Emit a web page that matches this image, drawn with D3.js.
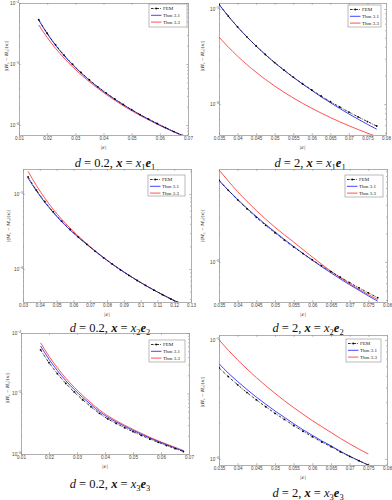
<!DOCTYPE html>
<html><head><meta charset="utf-8">
<script src="https://cdn.jsdelivr.net/npm/d3@7"></script>
<style>body{margin:0;background:#fff}svg{display:block}</style>
</head><body><svg id="c" width="392" height="500"></svg>
<script>
// ---------- DATA ----------
const seriesNames = ["FEM", "Thm 3.1", "Thm 3.3"];
const titleD = ["0.2", "2", "0.2", "2", "0.2", "2"];
const titleIdx = ["1", "1", "2", "2", "3", "3"];
const yLabelLetter = ["H", "H", "M", "M", "H", "H"];

const xTicksA = [0.01, 0.02, 0.03, 0.04, 0.05, 0.06, 0.07];
const xTicksB = [0.035, 0.04, 0.045, 0.05, 0.055, 0.06, 0.065, 0.07, 0.075, 0.08];
const xTicksC = [0.03, 0.04, 0.05, 0.06, 0.07, 0.08, 0.09, 0.1, 0.11, 0.12, 0.13];

// panel 1: d=0.2, x=x1e1
const p1X = [0.017,0.020,0.023,0.026,0.029,0.032,0.035,0.038,0.041,0.044,0.047,0.050,0.053,0.056,0.059,0.062,0.065,0.068];
const p1FEM = [5.33e-5,3.20e-5,2.06e-5,1.40e-5,9.91e-6,7.27e-6,5.48e-6,4.23e-6,3.33e-6,2.67e-6,2.17e-6,1.78e-6,1.48e-6,1.25e-6,1.06e-6,9.05e-7,7.80e-7,6.77e-7];
const p1Thm31 = [5.25e-5,3.14e-5,2.02e-5,1.37e-5,9.72e-6,7.14e-6,5.39e-6,4.17e-6,3.29e-6,2.64e-6,2.15e-6,1.77e-6,1.47e-6,1.24e-6,1.05e-6,8.98e-7,7.74e-7,6.72e-7];
const p1Thm33 = [4.37e-5,2.72e-5,1.80e-5,1.25e-5,9.02e-6,6.69e-6,5.10e-6,3.98e-6,3.15e-6,2.54e-6,2.07e-6,1.71e-6,1.43e-6,1.21e-6,1.03e-6,8.87e-7,7.68e-7,6.70e-7];

// panel 2: d=2, x=x1e1
const p2X = [0.035,0.0375,0.040,0.0425,0.045,0.0475,0.050,0.0525,0.055,0.0575,0.060,0.0625,0.065,0.0675,0.070,0.0725,0.075,0.0775];
const p2FEM = [1.12e-5,8.43e-6,6.49e-6,5.10e-6,4.08e-6,3.32e-6,2.73e-6,2.28e-6,1.92e-6,1.634e-6,1.404e-6,1.216e-6,1.060e-6,9.32e-7,8.23e-7,7.32e-7,6.54e-7,5.87e-7];
const p2Thm31 = [1.118e-5,8.41e-6,6.48e-6,5.09e-6,4.07e-6,3.31e-6,2.72e-6,2.27e-6,1.91e-6,1.626e-6,1.390e-6,1.192e-6,1.034e-6,8.99e-7,7.86e-7,6.92e-7,6.11e-7,5.43e-7];
const p2Thm33 = [5.07e-6,3.98e-6,3.19e-6,2.60e-6,2.16e-6,1.816e-6,1.547e-6,1.333e-6,1.16e-6,1.018e-6,9.02e-7,8.04e-7,7.21e-7,6.51e-7,5.91e-7,5.39e-7,4.94e-7,4.55e-7];

// panel 3: d=0.2, x=x2e2
const p3X = [0.033,0.038,0.043,0.048,0.053,0.058,0.063,0.068,0.073,0.078,0.083,0.088,0.093,0.098,0.103,0.108,0.113,0.118,0.122];
const p3FEM = [1.684e-5,1.125e-5,7.90e-6,5.77e-6,4.34e-6,3.36e-6,2.65e-6,2.13e-6,1.72e-6,1.41e-6,1.166e-6,9.75e-7,8.24e-7,7.02e-7,6.03e-7,5.22e-7,4.55e-7,3.99e-7,3.60e-7];
const p3Thm31 = [1.63e-5,1.095e-5,7.71e-6,5.65e-6,4.26e-6,3.31e-6,2.62e-6,2.12e-6,1.72e-6,1.41e-6,1.166e-6,9.75e-7,8.24e-7,7.02e-7,6.03e-7,5.22e-7,4.55e-7,3.99e-7,3.60e-7];
const p3Thm33 = [2.00e-5,1.294e-5,8.77e-6,6.23e-6,4.60e-6,3.51e-6,2.73e-6,2.17e-6,1.74e-6,1.42e-6,1.17e-6,9.78e-7,8.26e-7,7.03e-7,6.03e-7,5.22e-7,4.55e-7,3.99e-7,3.60e-7];

// panel 4: d=2, x=x2e2
const p4X = [0.035,0.0375,0.040,0.0425,0.045,0.0475,0.050,0.0525,0.055,0.0575,0.060,0.0625,0.065,0.0675,0.070,0.0725,0.075,0.0775];
const p4FEM = [7.26e-6,5.67e-6,4.50e-6,3.62e-6,2.95e-6,2.43e-6,2.03e-6,1.70e-6,1.44e-6,1.228e-6,1.055e-6,9.11e-7,7.92e-7,6.92e-7,6.07e-7,5.36e-7,4.74e-7,4.22e-7];
const p4Thm31 = [7.19e-6,5.67e-6,4.55e-6,3.67e-6,3.01e-6,2.48e-6,2.07e-6,1.73e-6,1.454e-6,1.228e-6,1.044e-6,8.93e-7,7.68e-7,6.64e-7,5.77e-7,5.04e-7,4.41e-7,3.88e-7];
const p4Thm33 = [9.29e-6,7.09e-6,5.49e-6,4.34e-6,3.48e-6,2.82e-6,2.32e-6,1.93e-6,1.62e-6,1.351e-6,1.129e-6,9.47e-7,8.00e-7,6.85e-7,5.92e-7,5.17e-7,4.55e-7,4.03e-7];

// panel 5: d=0.2, x=x3e3
const p5X = [0.017,0.020,0.023,0.026,0.029,0.032,0.035,0.038,0.041,0.044,0.047,0.050,0.053,0.056,0.059,0.062,0.065,0.068];
const p5FEM = [5.26e-5,3.23e-5,2.13e-5,1.47e-5,1.06e-5,7.89e-6,6.03e-6,4.71e-6,3.80e-6,3.20e-6,2.72e-6,2.34e-6,2.03e-6,1.77e-6,1.56e-6,1.38e-6,1.23e-6,1.10e-6];
const p5Thm31 = [6.10e-5,3.68e-5,2.39e-5,1.63e-5,1.166e-5,8.60e-6,6.51e-6,5.04e-6,4.05e-6,3.39e-6,2.87e-6,2.46e-6,2.12e-6,1.84e-6,1.61e-6,1.42e-6,1.26e-6,1.12e-6];
const p5Thm33 = [6.89e-5,4.13e-5,2.66e-5,1.79e-5,1.27e-5,9.31e-6,6.99e-6,5.37e-6,4.28e-6,3.55e-6,2.99e-6,2.55e-6,2.19e-6,1.89e-6,1.65e-6,1.46e-6,1.29e-6,1.14e-6];

// panel 6: d=2, x=x3e3
const p6X = [0.035,0.0375,0.040,0.0425,0.045,0.0475,0.050,0.0525,0.055,0.0575,0.060,0.0625,0.065,0.0675,0.070,0.0725,0.075];
const p6FEM = [5.84e-6,4.92e-6,4.20e-6,3.61e-6,3.14e-6,2.75e-6,2.42e-6,2.15e-6,1.91e-6,1.71e-6,1.54e-6,1.39e-6,1.27e-6,1.15e-6,1.05e-6,9.66e-7,8.89e-7];
const p6Thm31 = [6.31e-6,5.26e-6,4.47e-6,3.83e-6,3.31e-6,2.89e-6,2.53e-6,2.24e-6,1.98e-6,1.76e-6,1.58e-6,1.42e-6,1.29e-6,1.16e-6,1.055e-6,9.66e-7,8.89e-7];
const p6Thm33 = [1.00e-5,8.19e-6,6.79e-6,5.70e-6,4.83e-6,4.13e-6,3.56e-6,3.09e-6,2.70e-6,2.38e-6,2.10e-6,1.87e-6,1.67e-6,1.49e-6,1.34e-6,1.21e-6,1.10e-6];

// ---------- LAYOUT ----------
const panels = [
  {x:p1X, s:[p1FEM,p1Thm31,p1Thm33], xDom:[0.01,0.07], xTicks:xTicksA, yDom:[6.85e-7,1e-4],
   l:19, r:188, t:3, b:135, titleX:115, titleY:167, ylabX:8, ylabY:56, leg:[149,4,38,23]},
  {x:p2X, s:[p2FEM,p2Thm31,p2Thm33], xDom:[0.035,0.08], xTicks:xTicksB, yDom:[4.72e-7,1.157e-5],
   l:219, r:386, t:3, b:135, titleX:310, titleY:167, ylabX:204, ylabY:56, leg:[348,5,33,22]},
  {x:p3X, s:[p3FEM,p3Thm31,p3Thm33], xDom:[0.03,0.13], xTicks:xTicksC, yDom:[3.63e-7,2.15e-5],
   l:23, r:191, t:169, b:302, titleX:110, titleY:332, ylabX:10, ylabY:226, leg:[148,175,37,21]},
  {x:p4X, s:[p4FEM,p4Thm31,p4Thm33], xDom:[0.035,0.08], xTicks:xTicksB, yDom:[3.8e-7,9.5e-6],
   l:219, r:387, t:169, b:302, titleX:308, titleY:332, ylabX:204, ylabY:226, leg:[345,175,38,22]},
  {x:p5X, s:[p5FEM,p5Thm31,p5Thm33], xDom:[0.01,0.07], xTicks:xTicksA, yDom:[1e-6,1e-4],
   l:21, r:189, t:333, b:454, titleX:110, titleY:488, ylabX:9, ylabY:388, leg:[149,340,36,22]},
  {x:p6X, s:[p6FEM,p6Thm31,p6Thm33], xDom:[0.035,0.08], xTicks:xTicksB, yDom:[8.9e-7,1.1e-5],
   l:219, r:387, t:335, b:465, titleX:308, titleY:497, ylabX:204, ylabY:392, leg:[346,339,35,23]}
];

const colors = ["#000000", "#3a3aff", "#ff4a4a"];
const frameColor = "#8c8c8c";
const tickTextColor = "#444";

const svg = d3.select("#c");
const defs = svg.append("defs");

function isDecade(v){ const e = Math.log10(v); return Math.abs(e - Math.round(e)) < 1e-6; }

function styleAxis(g){
  g.select(".domain").attr("stroke", frameColor).attr("stroke-width", 0.7);
  g.selectAll(".tick line").attr("stroke", frameColor).attr("stroke-width", 0.6);
  g.selectAll(".tick text").attr("fill", tickTextColor).attr("font-family", "Liberation Sans, Arial, sans-serif").attr("font-size", 4.6);
}

panels.forEach((p, i) => {
  const g = svg.append("g");
  const x = d3.scaleLinear().domain(p.xDom).range([p.l, p.r]);
  const y = d3.scaleLog().domain(p.yDom).range([p.b, p.t]);

  const clipId = "clip" + i;
  defs.append("clipPath").attr("id", clipId).append("rect")
    .attr("x", p.l).attr("y", p.t).attr("width", p.r - p.l).attr("height", p.b - p.t);

  const yTicks = y.ticks().filter(v => v >= p.yDom[0] * 0.9999 && v <= p.yDom[1] * 1.0001);

  const gb = g.append("g").attr("transform", `translate(0,${p.b})`)
    .call(d3.axisBottom(x).tickValues(p.xTicks).tickSize(-1.8).tickSizeOuter(0).tickPadding(2.2)
      .tickFormat(d => String(+d.toFixed(3))));
  styleAxis(gb);
  const gt = g.append("g").attr("transform", `translate(0,${p.t})`)
    .call(d3.axisTop(x).tickValues(p.xTicks).tickSize(-1.8).tickSizeOuter(0).tickFormat(""));
  styleAxis(gt);
  const gl = g.append("g").attr("transform", `translate(${p.l},0)`)
    .call(d3.axisLeft(y).tickValues(yTicks).tickSize(-1.8).tickSizeOuter(0).tickPadding(1.5)
      .tickFormat(d => isDecade(d) ? "E" : ""));
  styleAxis(gl);
  gl.selectAll(".tick").each(function(d){
    const t = d3.select(this);
    if (!isDecade(d)) t.select("line").attr("x2", 1);
    const txt = t.select("text");
    if (isDecade(d)) {
      txt.text(null);
      txt.append("tspan").text("10");
      txt.append("tspan").attr("dy", -2).attr("font-size", 3.3).text("\u2212" + Math.abs(Math.round(Math.log10(d))));
      txt.attr("dx", 1.5);
    }
  });
  const gr = g.append("g").attr("transform", `translate(${p.r},0)`)
    .call(d3.axisRight(y).tickValues(yTicks).tickSize(-1.8).tickSizeOuter(0).tickFormat(""));
  styleAxis(gr);
  gr.selectAll(".tick").each(function(d){
    if (!isDecade(d)) d3.select(this).select("line").attr("x2", -1);
  });

  const plot = g.append("g").attr("clip-path", `url(#${clipId})`);
  const line = d3.line().x((d, k) => x(p.x[k])).y(d => y(d)).curve(d3.curveMonotoneX);
  [2, 1].forEach(si => {
    plot.append("path").datum(p.s[si]).attr("d", line)
      .attr("fill", "none").attr("stroke", colors[si]).attr("stroke-width", 0.95);
  });
  plot.append("path").datum(p.s[0]).attr("d", line)
    .attr("fill", "none").attr("stroke", "#111").attr("stroke-width", 0.85)
    .attr("stroke-dasharray", "2.6,1.1,0.7,1.1");
  plot.selectAll("circle.m").data(p.s[0]).join("circle").attr("class", "m")
    .attr("cx", (d, k) => x(p.x[k])).attr("cy", d => y(d)).attr("r", 0.9).attr("fill", "#000");

  // x label
  const xl = g.append("text").attr("x", (p.l + p.r) / 2).attr("y", p.b + 13.5)
    .attr("text-anchor", "middle").attr("font-size", 4.6).attr("fill", "#555")
    .attr("font-family", "DejaVu Serif, serif");
  xl.append("tspan").text("|");
  xl.append("tspan").attr("font-style", "italic").attr("font-weight", "bold").text("\u03b5");
  xl.append("tspan").text("|");

  // y label
  const yl = g.append("text").attr("transform", `translate(${p.ylabX},${p.ylabY}) rotate(-90)`)
    .attr("text-anchor", "middle").attr("font-size", 4.4).attr("fill", "#555")
    .attr("font-family", "DejaVu Serif, serif");
  yl.append("tspan").text("|(");
  yl.append("tspan").attr("font-weight", "bold").attr("font-style", "italic").text(yLabelLetter[i]);
  yl.append("tspan").attr("font-size", 3).attr("dy", 1).text("\u03b5");
  yl.append("tspan").attr("dy", -1).text(" \u2212 ");
  yl.append("tspan").attr("font-weight", "bold").attr("font-style", "italic").text(yLabelLetter[i]);
  yl.append("tspan").attr("font-size", 3).attr("dy", 1).text("0");
  yl.append("tspan").attr("dy", -1).text(")(");
  yl.append("tspan").attr("font-weight", "bold").attr("font-style", "italic").text("x");
  yl.append("tspan").text(")|");

  // legend
  const [lx, ly, lw, lh] = p.leg;
  const lg = g.append("g");
  lg.append("rect").attr("x", lx).attr("y", ly).attr("width", lw).attr("height", lh)
    .attr("fill", "#fff").attr("stroke", frameColor).attr("stroke-width", 0.6);
  seriesNames.forEach((name, k) => {
    const yy = ly + 4.5 + k * 6.8;
    const ln = lg.append("line").attr("x1", lx + 2).attr("x2", lx + 12.5).attr("y1", yy).attr("y2", yy)
      .attr("stroke", k === 0 ? "#111" : colors[k]).attr("stroke-width", k === 0 ? 0.85 : 0.95);
    if (k === 0) {
      ln.attr("stroke-dasharray", "2.6,1.1,0.7,1.1");
      lg.append("circle").attr("cx", lx + 7.2).attr("cy", yy).attr("r", 0.9).attr("fill", "#000");
    }
    lg.append("text").attr("x", lx + 14).attr("y", yy + 1.6).attr("font-size", 5)
      .attr("font-family", "Liberation Serif, Times New Roman, serif").attr("fill", "#222").text(name);
  });

  // title
  const tt = svg.append("text").attr("x", p.titleX).attr("y", p.titleY).attr("text-anchor", "middle")
    .attr("font-family", "Liberation Serif, Times New Roman, serif").attr("font-size", 12.5).attr("fill", "#111");
  tt.append("tspan").attr("font-style", "italic").text("d");
  tt.append("tspan").text(" = " + titleD[i] + ", ");
  tt.append("tspan").attr("font-style", "italic").attr("font-weight", "bold").text("x");
  tt.append("tspan").text(" = ");
  tt.append("tspan").attr("font-style", "italic").text("x");
  tt.append("tspan").attr("font-size", 8.5).attr("dy", 2.5).text(titleIdx[i]);
  tt.append("tspan").attr("dy", -2.5).attr("font-style", "italic").attr("font-weight", "bold").text("e");
  tt.append("tspan").attr("font-size", 8.5).attr("dy", 2.5).text(titleIdx[i]);
});
</script>
</body></html>
